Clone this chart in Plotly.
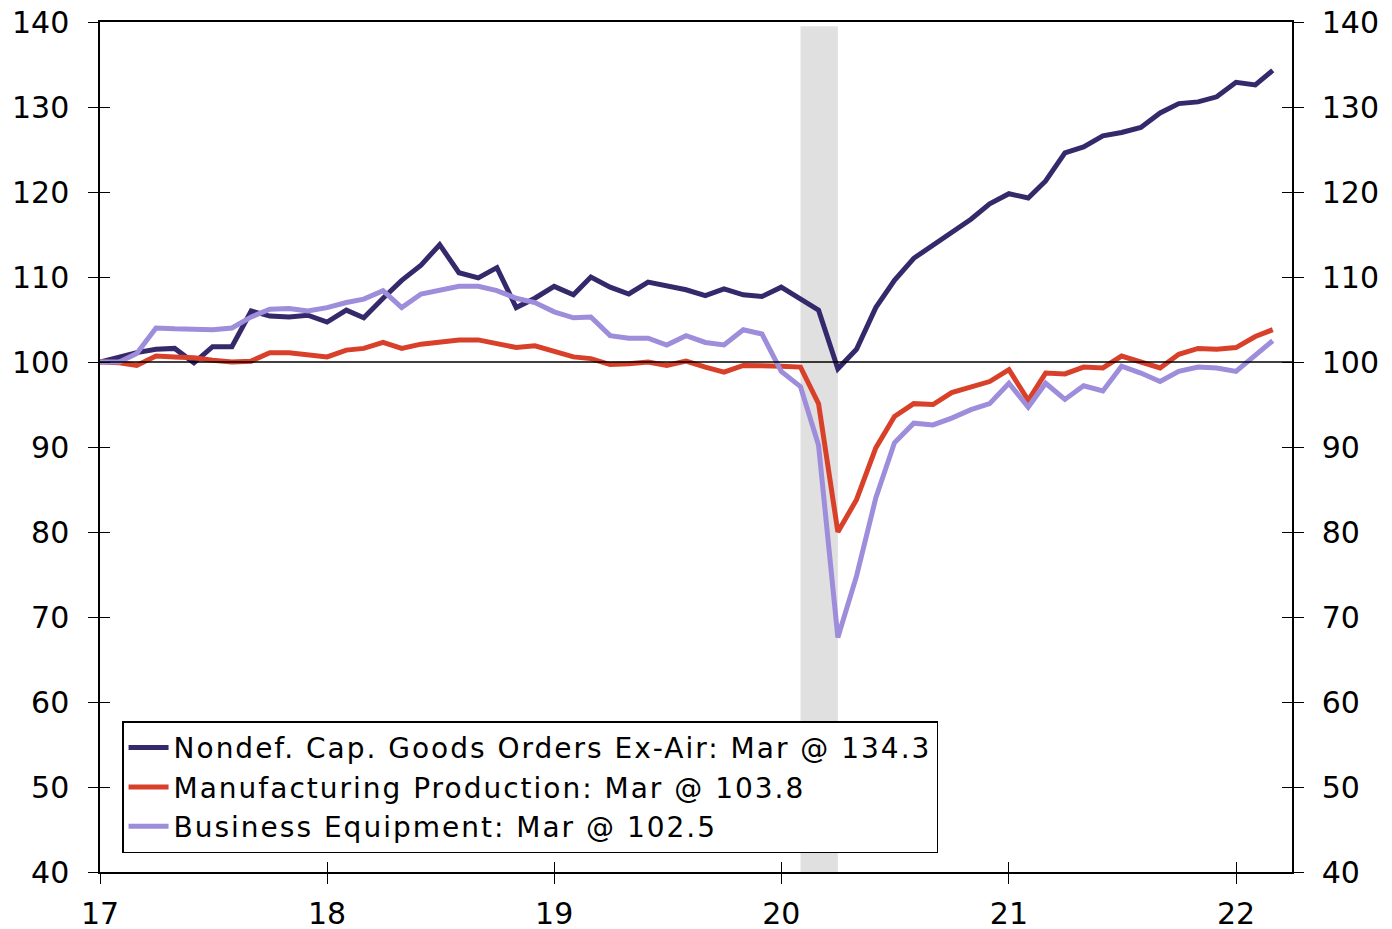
import pandas as pd
import plotly.graph_objects as go

months = pd.date_range("2017-01-01", "2022-03-01", freq="MS")

nondef = [
    100.0, 100.6, 101.1, 101.5, 101.6, 99.9, 101.8, 101.8, 106.0, 105.4, 105.3, 105.5,
    104.7, 106.1, 105.2, 107.5, 109.6, 111.4, 113.8, 110.5, 109.9, 111.1, 106.4, 107.5,
    108.9, 107.9, 110.0, 108.8, 108.0, 109.4, 108.9, 108.5, 107.8, 108.6, 107.9, 107.7,
    108.8, 107.4, 106.1, 99.2, 101.5, 106.4, 109.6, 112.2, 113.7, 115.2, 116.8, 118.6,
    119.8, 119.3, 121.3, 124.6, 125.3, 126.6, 127.0, 127.6, 129.3, 130.4, 130.6, 131.2,
    132.9, 132.6, 134.3,
]
manuf = [
    100.0, 99.9, 99.6, 100.7, 100.6, 100.5, 100.2, 100.0, 100.1, 101.1, 101.1, 100.9,
    100.6, 101.4, 101.6, 102.3, 101.6, 102.1, 102.4, 102.6, 102.6, 102.1, 101.7, 101.9,
    101.2, 100.6, 100.4, 99.7, 99.8, 100.0, 99.6, 100.1, 99.4, 98.8, 99.6, 99.6,
    99.5, 99.4, 95.1, 80.0, 83.8, 89.9, 93.6, 95.1, 95.0, 96.4, 97.1, 97.7,
    99.1, 95.5, 98.7, 98.6, 99.4, 99.3, 100.7, 100.0, 99.3, 100.9, 101.6, 101.5,
    101.7, 103.0, 103.8,
]
busequip = [
    100.0, 100.0, 101.0, 104.0, 103.9, 103.8, 103.8, 104.0, 105.3, 106.2, 106.3, 106.0,
    106.4, 107.0, 107.4, 108.4, 106.4, 108.0, 108.4, 108.9, 108.9, 108.4, 107.5, 107.0,
    105.9, 105.2, 105.3, 103.1, 102.8, 102.8, 102.0, 103.1, 102.3, 102.0, 103.8, 103.3,
    98.9, 97.1, 90.2, 67.6, 74.8, 84.0, 90.5, 92.8, 92.6, 93.4, 94.4, 95.1,
    97.5, 94.7, 97.5, 95.6, 97.2, 96.6, 99.5, 98.7, 97.7, 98.9, 99.4, 99.3,
    98.9, 100.8, 102.5,
]

names = [
    "Nondef. Cap. Goods Orders Ex-Air: Mar @ 134.3",
    "Manufacturing Production: Mar @ 103.8",
    "Business Equipment: Mar @ 102.5",
]
colors = ["#35296c", "#d9402a", "#9d8ddb"]

x_tickvals = ["2017-01-01", "2018-01-01", "2019-01-01", "2020-01-01", "2021-01-01", "2022-01-01"]
x_ticktext = ["17", "18", "19", "20", "21", "22"]
y_tickvals = [40, 50, 60, 70, 80, 90, 100, 110, 120, 130, 140]
x_range = ["2017-01-01", "2022-04-01"]
y_range = [40, 140]
recession = ["2020-02-01", "2020-04-01"]

FONT = "Verdana, DejaVu Sans, sans-serif"

fig = go.Figure()
for ser, nm, col in zip([nondef, manuf, busequip], names, colors):
    fig.add_trace(go.Scatter(x=months, y=ser, mode="lines",
                             name='<span style="letter-spacing:2px">' + nm + "</span>",
                             line=dict(color=col, width=5)))

# invisible helper traces so the overlay tick axes get drawn
for xa, ya in [("x2", "y3"), ("x", "y4"), ("x", "y2")]:
    fig.add_trace(go.Scatter(x=[x_range[0]], y=[y_range[0]], xaxis=xa, yaxis=ya,
                             mode="markers", marker=dict(opacity=0),
                             showlegend=False, hoverinfo="skip"))

fig.add_vrect(x0=recession[0], x1=recession[1], y0=0, y1=0.995,
              fillcolor="#e0e0e0", line_width=0, layer="below")
fig.add_hline(y=100, line=dict(color="black", width=1.5))

common_y = dict(range=y_range, tickvals=y_tickvals, showgrid=False, zeroline=False,
                automargin=False, fixedrange=True, ticklabeloverflow="allow",
                tickfont=dict(size=30, color="black", family=FONT))
common_x = dict(range=x_range, type="date", tickvals=x_tickvals, ticktext=x_ticktext,
                showgrid=False, zeroline=False, automargin=False,
                ticklabeloverflow="allow",
                tickfont=dict(size=30, color="black", family=FONT))

fig.update_layout(
    width=1392, height=929,
    margin=dict(l=92, r=108, t=14, b=65),
    paper_bgcolor="white", plot_bgcolor="white",
    font=dict(family=FONT, color="black"),
    showlegend=True,
    legend=dict(x=0.0185, y=0.022, xanchor="left", yanchor="bottom",
                bgcolor="white", bordercolor="black", borderwidth=1.5,
                font=dict(size=28, family=FONT, color="black"),
                tracegroupgap=0, itemwidth=40),
    xaxis=dict(**common_x, showline=True, linecolor="black", linewidth=1.5,
               mirror=True, ticks="outside", ticklen=10, tickwidth=1.2,
               tickcolor="black", ticklabelstandoff=4),
    xaxis2=dict(**common_x, overlaying="x", side="bottom", anchor="y",
                showline=False, ticks="inside", ticklen=10, tickwidth=1.2,
                tickcolor="black", showticklabels=False),
    yaxis=dict(**common_y, side="left", showline=True, linecolor="black",
               linewidth=1.5, ticks="outside", ticklen=10, tickwidth=1.2,
               tickcolor="black", ticklabelstandoff=13),
    yaxis2=dict(**common_y, overlaying="y", side="right", anchor="x",
                showline=True, linecolor="black", linewidth=1.5,
                ticks="outside", ticklen=10, tickwidth=1.2, tickcolor="black",
                ticklabelstandoff=12),
    yaxis3=dict(**common_y, overlaying="y", side="left", anchor="x",
                showline=False, ticks="inside", ticklen=10, tickwidth=1.2,
                tickcolor="black", showticklabels=False),
    yaxis4=dict(**common_y, overlaying="y", side="right", anchor="x",
                showline=False, ticks="inside", ticklen=10, tickwidth=1.2,
                tickcolor="black", showticklabels=False),
)

fig.write_html("out.html")
